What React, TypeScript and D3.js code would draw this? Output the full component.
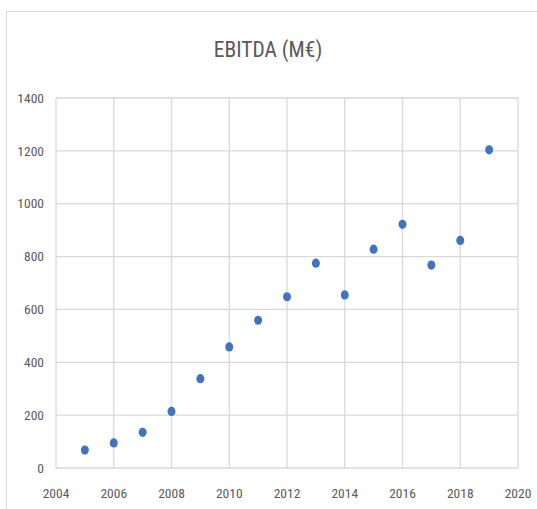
import * as d3 from 'd3';
import { useEffect, useRef } from 'react';

// EBITDA values
const years = [2005, 2006, 2007, 2008, 2009, 2010, 2011, 2012, 2013, 2014, 2015, 2016, 2017, 2018, 2019];
const ebitda = [68, 95, 135, 214, 338, 458, 559, 648, 775, 655, 828, 922, 768, 861, 1204];
const xTicks = [2004, 2006, 2008, 2010, 2012, 2014, 2016, 2018, 2020];
const yTicks = [0, 200, 400, 600, 800, 1000, 1200, 1400];

const W = 537;
const H = 509;
const FONT = '"Liberation Sans Narrow", "Roboto Condensed", "Liberation Sans", sans-serif';

function App() {
    const ref = useRef<SVGSVGElement | null>(null);

    useEffect(() => {
        const svg = d3.select(ref.current);
        svg.selectAll('*').remove();

        // chart frame (only top/left visible in reference)
        svg.append('rect')
            .attr('x', 6.5).attr('y', 11.5)
            .attr('width', W + 10).attr('height', H + 10)
            .attr('fill', 'white')
            .attr('stroke', '#d9d9d9');

        const x = d3.scaleLinear().domain([2004, 2020]).range([56, 518]);
        const y = d3.scaleLinear().domain([0, 1400]).range([468, 98]);

        // title
        svg.append('text')
            .attr('x', 268).attr('y', 57)
            .attr('text-anchor', 'middle')
            .attr('font-family', FONT)
            .attr('font-size', 21.5)
            .attr('fill', '#595959')
            .text('EBITDA (M€)');

        const grid = svg.append('g').attr('stroke', '#d9d9d9').attr('stroke-width', 1.3);
        grid.selectAll('line.h')
            .data(yTicks)
            .join('line')
            .attr('class', 'h')
            .attr('x1', x(2004)).attr('x2', x(2020))
            .attr('y1', d => y(d)).attr('y2', d => y(d));
        grid.selectAll('line.v')
            .data(xTicks)
            .join('line')
            .attr('class', 'v')
            .attr('x1', d => x(d)).attr('x2', d => x(d))
            .attr('y1', y(0)).attr('y2', y(1400));

        // y labels
        svg.append('g')
            .selectAll('text')
            .data(yTicks)
            .join('text')
            .attr('x', 44)
            .attr('y', d => y(d))
            .attr('dy', '0.35em')
            .attr('text-anchor', 'end')
            .attr('font-family', FONT)
            .attr('font-size', 13.5)
            .attr('fill', '#595959')
            .text(d => d);

        // x labels
        svg.append('g')
            .selectAll('text')
            .data(xTicks)
            .join('text')
            .attr('x', d => x(d))
            .attr('y', 493)
            .attr('dy', '0.35em')
            .attr('text-anchor', 'middle')
            .attr('font-family', FONT)
            .attr('font-size', 13.5)
            .attr('fill', '#595959')
            .text(d => d);

        // points
        svg.append('g')
            .selectAll('ellipse')
            .data(years.map((yr, i) => ({ yr, v: ebitda[i] })))
            .join('ellipse')
            .attr('cx', d => x(d.yr))
            .attr('cy', d => y(d.v))
            .attr('rx', 4)
            .attr('ry', 4.6)
            .attr('fill', '#4074bd');
    });

    return (
        <svg ref={ref} width={W} height={H}
            style={{ position: 'absolute', left: 0, top: 0, background: 'white' }} />
    );
}

export default App;
